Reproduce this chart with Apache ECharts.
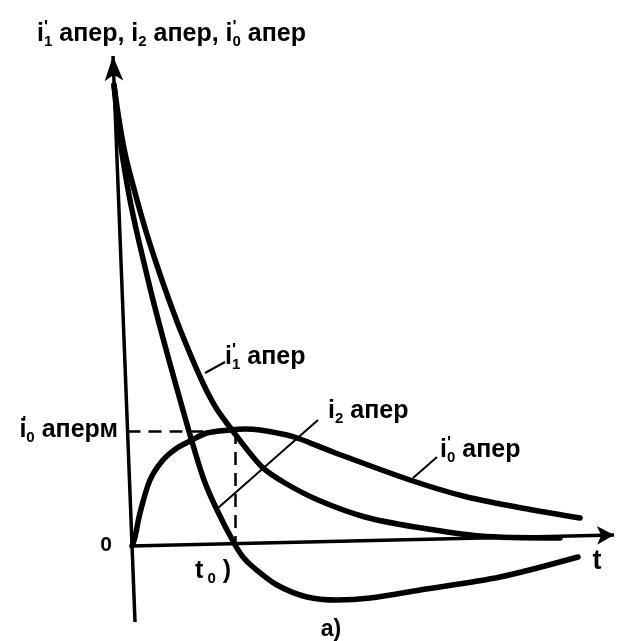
<!DOCTYPE html>
<html>
<head>
<meta charset="utf-8">
<style>
  html, body { margin: 0; padding: 0; background: #fff; }
  #chart { width: 617px; height: 641px; }
</style>
<script src="https://cdn.jsdelivr.net/npm/echarts@6/dist/echarts.min.js"></script>
</head>
<body>
<div id="chart"></div>
<script>
// Aperiodic current components: [t, i] in relative units
const i1Aper = [[-0.17,4.61],[-0.135,4.36],[-0.095,4.11],[-0.045,3.86],[0.06,3.46],[0.155,3.13],[0.265,2.79],[0.38,2.46],[0.505,2.13],[0.705,1.66],[0.845,1.39],[1.01,1.16],[1.31,0.79],[1.54,0.63],[1.87,0.46],[2.34,0.29],[2.84,0.19],[3.49,0.10],[4.29,0.08]];
const i2Aper = [[-0.17,4.61],[-0.145,4.36],[-0.115,4.11],[-0.08,3.86],[-0.01,3.46],[0.06,3.13],[0.14,2.79],[0.22,2.46],[0.325,2.06],[0.435,1.66],[0.605,1.06],[0.73,0.66],[0.86,0.36],[1.03,0.03],[1.12,-0.11],[1.22,-0.21],[1.46,-0.39],[1.76,-0.51],[2.06,-0.54],[2.39,-0.52],[2.89,-0.44],[3.69,-0.31],[4.47,-0.11]];
const i0Aper = [[0.01,0.00],[0.04,0.09],[0.09,0.33],[0.19,0.66],[0.32,0.86],[0.46,0.98],[0.59,1.05],[0.76,1.13],[0.99,1.16],[1.14,1.17],[1.29,1.16],[1.56,1.11],[1.69,1.07],[2.02,0.94],[2.79,0.66],[3.36,0.49],[4.02,0.36],[4.49,0.28]];

// Hand-drawn axes: t axis and current axis (start, arrow tip)
const tAxisLine = [[0, 0], [4.83, 0.11]];
const iAxisLine = [[0.04, -0.76], [-0.18, 4.90]];

// Moment t0 where i2 crosses zero and the maximum of i0'
const t0 = 1.04;
const i0Max = 1.15;
const iAxisAtMax = -0.035;

// Leader lines from the curves to their captions
const leaderI1 = [[0.74, 1.73], [0.94, 1.84]];
const leaderI2 = [[0.87, 0.38], [1.87, 1.26]];
const leaderI0 = [[2.82, 0.68], [3.06, 0.89]];

// Caption anchors
const capI1 = [0.94, 1.89];
const capI2 = [1.97, 1.35];
const capI0 = [3.09, 0.96];
const capI0Max = [-0.13, 1.16];
const capZero = [-0.25, 0.01];
const capT0 = [0.64, -0.25];
const capT = [4.66, -0.16];
const capFig = [2.0, -0.84];

const FONT = 'Liberation Sans';
const INK = '#000';

const rich = {
  m: { fontFamily: FONT, fontSize: 25, fontWeight: 'bold', lineHeight: 30, color: INK },
  p: { fontFamily: FONT, fontSize: 17, fontWeight: 'bold', lineHeight: 16, verticalAlign: 'top', width: 0, color: INK },
  s: { fontFamily: FONT, fontSize: 15, fontWeight: 'bold', lineHeight: 20, verticalAlign: 'bottom', color: INK },
  n: { fontFamily: FONT, fontSize: 21, fontWeight: 'bold', lineHeight: 26, color: INK },
  t: { fontFamily: FONT, fontSize: 27, fontWeight: 'bold', lineHeight: 30, color: INK },
  c: { fontFamily: FONT, fontSize: 23, fontWeight: 'bold', lineHeight: 26, color: INK }
};

// current symbol i with subscript and optional prime
function cur(sub, prime) {
  return '{m|i}' + (prime ? "{p|'}" : '') + '{s|' + sub + '}';
}

const titleText = cur('1', true) + '{m| апер, }' + cur('2', false) + '{m| апер, }' + cur('0', true) + '{m| апер}';

function note(name, pos, text, position) {
  return {
    name: name,
    coord: pos,
    label: {
      show: true, formatter: text, position: position, distance: 0,
      color: INK, opacity: 1, textBorderWidth: 0, rich: rich
    }
  };
}

const notes = [
  note('i1', capI1, cur('1', true) + '{m| апер}', 'right'),
  note('i2', capI2, cur('2', false) + '{m| апер}', 'right'),
  note('i0', capI0, cur('0', true) + '{m| апер}', 'right'),
  note('i0m', capI0Max, cur('0', true) + '{m| аперм}', 'left'),
  note('zero', capZero, '{n|0}', 'inside'),
  note('t0', capT0, '{m|t}{s| 0}{m| )}', 'right'),
  note('t', capT, '{t|t}', 'inside'),
  note('fig', capFig, '{c|a)}', 'inside')
];

const curveStyle = { color: INK, width: 5.5, cap: 'round', join: 'round' };

function segment(pair, extra) {
  return [Object.assign({ coord: pair[0] }, extra && extra.from), Object.assign({ coord: pair[1] }, extra && extra.to)];
}

const chart = echarts.init(document.getElementById('chart'), null, { renderer: 'canvas' });
chart.setOption({
  animation: false,
  backgroundColor: '#fff',
  title: {
    text: titleText,
    left: 37,
    top: 19,
    padding: 0,
    textStyle: { rich: rich }
  },
  grid: { left: 101, right: 0, top: 56, bottom: 5 },
  xAxis: { type: 'value', min: -0.3, max: 4.86, show: false },
  yAxis: { type: 'value', min: -0.9, max: 4.9, show: false },
  series: [
    {
      name: 'axes', type: 'line', data: [], silent: true,
      markLine: {
        silent: true, animation: false,
        symbol: ['none', 'arrow'],
        label: { show: false },
        emphasis: { disabled: true },
        lineStyle: { color: INK, width: 3.5, type: 'solid', opacity: 1 },
        data: [
          segment(tAxisLine, { from: { symbol: 'none' }, to: { symbol: 'arrow', symbolSize: [14, 17] } }),
          segment(iAxisLine, { from: { symbol: 'none' }, to: { symbol: 'arrow', symbolSize: [14, 25] } })
        ]
      },
      markPoint: {
        silent: true, animation: false,
        symbol: 'circle', symbolSize: 0,
        itemStyle: { color: INK, opacity: 1 },
        emphasis: { disabled: true },
        data: notes
      }
    },
    {
      name: 'i1 апер', type: 'line', data: i1Aper, smooth: 0.3, showSymbol: false, silent: true,
      lineStyle: curveStyle
    },
    {
      name: 'i2 апер', type: 'line', data: i2Aper, smooth: 0.3, showSymbol: false, silent: true,
      lineStyle: curveStyle,
      markLine: {
        silent: true, animation: false, symbol: ['none', 'none'],
        label: { show: false }, emphasis: { disabled: true },
        lineStyle: { color: INK, width: 2, type: 'solid', opacity: 1 },
        data: [segment(leaderI1), segment(leaderI2), segment(leaderI0)]
      }
    },
    {
      name: 'i0 апер', type: 'line', data: i0Aper, smooth: 0.3, showSymbol: false, silent: true,
      lineStyle: curveStyle,
      markLine: {
        silent: true, animation: false, symbol: ['none', 'none'],
        label: { show: false }, emphasis: { disabled: true },
        lineStyle: { color: INK, width: 2.5, type: [13, 8], opacity: 1 },
        data: [
          segment([[iAxisAtMax, i0Max], [t0, i0Max]]),
          segment([[t0, i0Max], [t0, 0.02]])
        ]
      }
    }
  ]
});
</script>
</body>
</html>
